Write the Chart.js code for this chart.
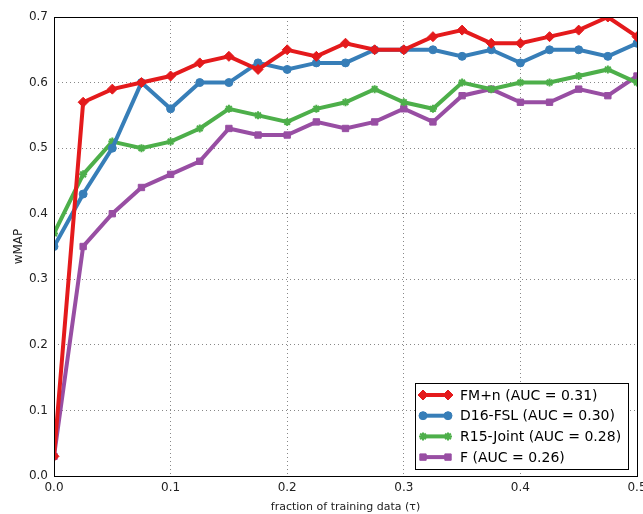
<!DOCTYPE html>
<html>
<head>
<meta charset="utf-8">
<script src="https://cdn.jsdelivr.net/npm/chart.js@4/dist/chart.umd.min.js"></script>
<style>
  html, body { margin: 0; padding: 0; background: #fff; }
  #wrap { width: 643px; height: 514px; }
</style>
</head>
<body>
<div id="wrap"><canvas id="wmapChart" width="643" height="514"></canvas></div>
<script>
// fraction of training data (tau)
const fractions = [0, 0.025, 0.05, 0.075, 0.1, 0.125, 0.15, 0.175, 0.2, 0.225, 0.25,
                   0.275, 0.3, 0.325, 0.35, 0.375, 0.4, 0.425, 0.45, 0.475, 0.5];

// wMAP per method
const fmN    = [0.03, 0.57, 0.59, 0.60, 0.61, 0.63, 0.64, 0.62, 0.65, 0.64, 0.66,
                0.65, 0.65, 0.67, 0.68, 0.66, 0.66, 0.67, 0.68, 0.70, 0.67];
const d16Fsl = [0.35, 0.43, 0.50, 0.60, 0.56, 0.60, 0.60, 0.63, 0.62, 0.63, 0.63,
                0.65, 0.65, 0.65, 0.64, 0.65, 0.63, 0.65, 0.65, 0.64, 0.66];
const r15Joint = [0.37, 0.46, 0.51, 0.50, 0.51, 0.53, 0.56, 0.55, 0.54, 0.56, 0.57,
                  0.59, 0.57, 0.56, 0.60, 0.59, 0.60, 0.60, 0.61, 0.62, 0.60];
const fOnly  = [0.03, 0.35, 0.40, 0.44, 0.46, 0.48, 0.53, 0.52, 0.52, 0.54, 0.53,
                0.54, 0.56, 0.54, 0.58, 0.59, 0.57, 0.57, 0.59, 0.58, 0.61];

const seriesNames = ['FM+n (AUC = 0.31)', 'D16-FSL (AUC = 0.30)', 'R15-Joint (AUC = 0.28)', 'F (AUC = 0.26)'];
const xTicks = [0, 0.1, 0.2, 0.3, 0.4, 0.5];
const yTicks = [0, 0.1, 0.2, 0.3, 0.4, 0.5, 0.6, 0.7];

const FONT = '"DejaVu Sans", sans-serif';

function toPoints(values) {
    return values.map((v, i) => ({ x: fractions[i], y: v }));
}

function makeSet(label, values, color, style, radius) {
    return {
        label: label,
        data: toPoints(values),
        borderColor: color,
        backgroundColor: color,
        borderWidth: 4,
        pointStyle: style,
        pointRadius: radius,
        pointBorderWidth: style === 'star' ? 2 : 1,
        pointBorderColor: color,
        pointBackgroundColor: color,
        tension: 0,
        fill: false
    };
}

// legend box + frame drawn inside the plot area, like matplotlib
const frameLegend = {
    id: 'frameLegend',
    afterDraw(chart) {
        const ctx = chart.ctx;
        const a = chart.chartArea;
        ctx.save();
        ctx.strokeStyle = '#000';
        ctx.lineWidth = 1;
        ctx.strokeRect(Math.round(a.left) + 0.5, Math.round(a.top) + 0.5,
                       Math.round(a.right - a.left), Math.round(a.bottom - a.top));

        const bx = 415.5, by = 383.5, bw = 213, bh = 86;
        ctx.fillStyle = '#fff';
        ctx.fillRect(bx, by, bw, bh);
        ctx.strokeRect(bx, by, bw, bh);

        ctx.font = '14px ' + FONT;
        ctx.textBaseline = 'middle';
        ctx.textAlign = 'left';
        chart.data.datasets.forEach((ds, i) => {
            const y = 395 + i * 20.7;
            ctx.strokeStyle = ds.borderColor;
            ctx.lineWidth = 4;
            ctx.beginPath();
            ctx.moveTo(423, y);
            ctx.lineTo(448, y);
            ctx.stroke();
            ctx.fillStyle = ds.borderColor;
            ctx.lineWidth = ds.pointBorderWidth;
            [423, 448].forEach(px => {
                Chart.helpers.drawPoint(ctx, {
                    pointStyle: ds.pointStyle, radius: ds.pointRadius,
                    rotation: 0, borderWidth: ds.pointBorderWidth
                }, px, y);
            });
            ctx.fillStyle = '#000';
            ctx.fillText(ds.label, 460, y + 1);
        });
        ctx.restore();
    }
};

const config = {
    type: 'line',
    data: {
        datasets: [
            makeSet(seriesNames[0], fmN, '#e41a1c', 'rectRot', 5),
            makeSet(seriesNames[1], d16Fsl, '#377eb8', 'circle', 4),
            makeSet(seriesNames[2], r15Joint, '#4daf4a', 'star', 4),
            makeSet(seriesNames[3], fOnly, '#984ea3', 'rect', 4.5)
        ]
    },
    options: {
        responsive: false,
        animation: false,
        layout: { padding: { top: 17, right: 6, left: 0, bottom: 0 } },
        plugins: {
            legend: { display: false },
            tooltip: { enabled: false }
        },
        scales: {
            x: {
                type: 'linear',
                min: 0,
                max: 0.5,
                afterBuildTicks: s => { s.ticks = xTicks.map(v => ({ value: v })); },
                afterFit: s => { s.height = 38; s.paddingLeft = 0; s.paddingRight = 0; },
                ticks: {
                    color: '#222',
                    font: { family: FONT, size: 12 },
                    padding: 5,
                    maxRotation: 0,
                    callback: v => v.toFixed(1)
                },
                grid: { color: '#888', drawTicks: false, lineWidth: 1 },
                border: { display: false, dash: [1, 3] },
                title: {
                    display: true,
                    text: 'fraction of training data (τ)',
                    color: '#222',
                    font: { family: FONT, size: 11 },
                    padding: { top: 2, bottom: 0 }
                }
            },
            y: {
                min: 0,
                max: 0.7,
                afterBuildTicks: s => { s.ticks = yTicks.map(v => ({ value: v })); },
                afterFit: s => { s.width = 54; s.paddingTop = 0; s.paddingBottom = 0; },
                ticks: {
                    color: '#222',
                    font: { family: FONT, size: 12 },
                    padding: 6,
                    callback: v => v.toFixed(1)
                },
                grid: { color: '#888', drawTicks: false, lineWidth: 1 },
                border: { display: false, dash: [1, 3] },
                title: {
                    display: true,
                    text: 'wMAP',
                    color: '#222',
                    font: { family: FONT, size: 12 },
                    padding: { top: 12, bottom: 4 }
                }
            }
        }
    },
    plugins: [frameLegend]
};

const wmapChart = new Chart(document.getElementById('wmapChart'), config);
</script>
</body>
</html>
